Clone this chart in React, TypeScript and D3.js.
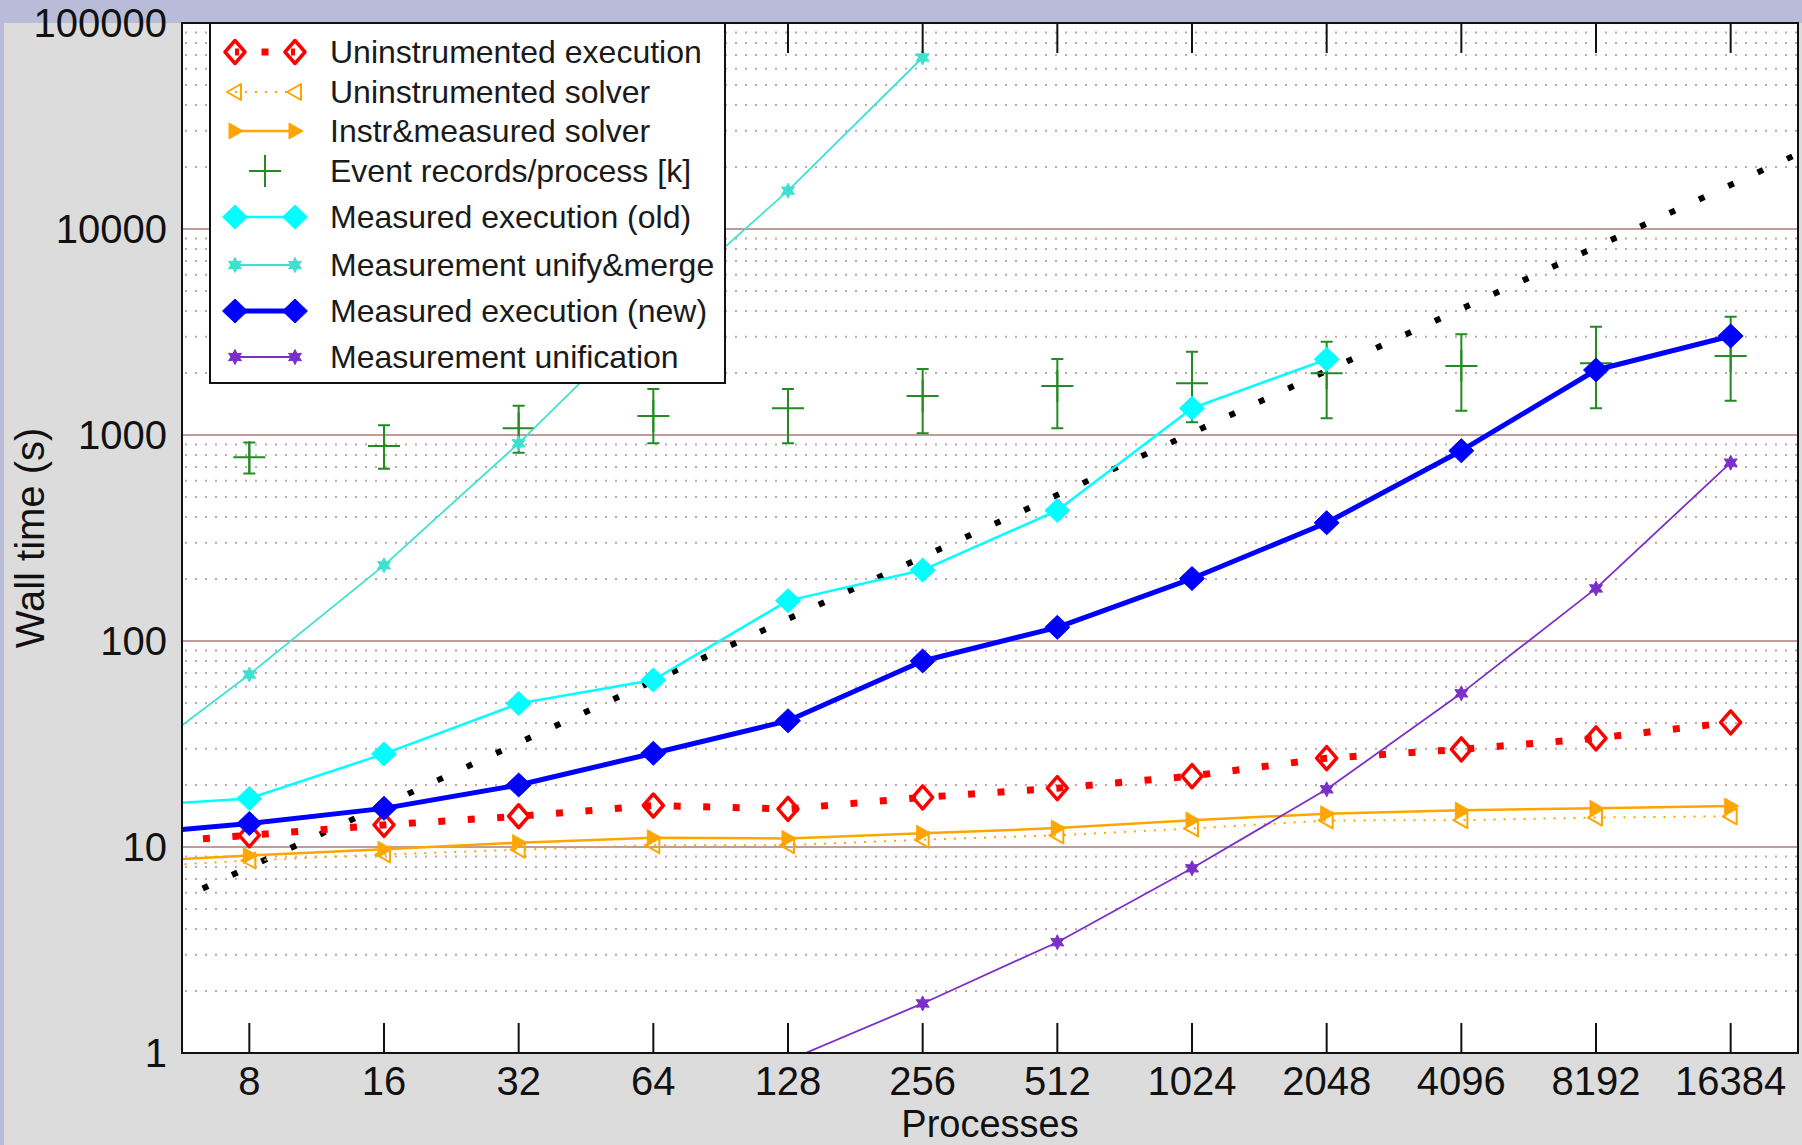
import React, { useRef, useEffect } from "react";
import * as d3 from "d3";

// process counts (x) and wall times in seconds (y)
const processes = [4, 8, 16, 32, 64, 128, 256, 512, 1024, 2048, 4096, 8192, 16384];
const xTicks = [8, 16, 32, 64, 128, 256, 512, 1024, 2048, 4096, 8192, 16384];
const yTicks = [1, 10, 100, 1000, 10000, 100000];

const uninstrExec = [10.2, 11.4, 12.8, 14.1, 15.9, 15.3, 17.4, 19.3, 22.1, 27.0, 29.8, 33.7, 40.3];
const uninstrSolver = [7.9, 8.6, 9.2, 9.7, 10.2, 10.2, 10.85, 11.4, 12.3, 13.45, 13.5, 13.9, 14.1];
const instrSolver = [8.4, 9.1, 9.75, 10.5, 11.1, 11.0, 11.65, 12.35, 13.5, 14.5, 15.1, 15.4, 15.8];
const measuredNew = [11.4, 13.0, 15.4, 20.0, 28.5, 41.0, 80.0, 116.5, 201, 375, 839, 2068, 3025];

const oldProcs = [4, 8, 16, 32, 64, 128, 256, 512, 1024, 2048];
const measuredOld = [15.6, 17.2, 28.3, 49.7, 64.7, 157, 221, 430, 1348, 2330];

const mergeProcs = [4, 8, 16, 32, 64, 128, 256];
const unifyMerge = [22, 68.8, 233, 911, 4000, 15350, 68000];

const unifProcs = [128, 256, 512, 1024, 2048, 4096, 8192, 16384];
const unification = [0.92, 1.74, 3.45, 7.88, 19.05, 55.7, 180, 734];

// event records per process (thousands), with min/max bars
const eventProcs = [8, 16, 32, 64, 128, 256, 512, 1024, 2048, 4096, 8192, 16384];
const eventMean = [779, 885, 1078, 1236, 1348, 1546, 1730, 1782, 1993, 2162, 2230, 2418];
const eventLow = [650, 685, 820, 911, 911, 1019, 1078, 1152, 1205, 1312, 1348, 1468];
const eventHigh = [920, 1116, 1387, 1672, 1672, 2091, 2340, 2537, 2838, 3083, 3356, 3752];

// linear-scaling reference (black dots, no key entry)
const idealProcs = [4, 32768];
const idealTime = [4, 32768];

const FONT = "'Liberation Sans', Arial, Helvetica, sans-serif";

type Marker = "openDiamond" | "openTriLeft" | "triRight" | "diamond" | "star" | "plus" | null;

function markerPath(type: Marker, cx: number, cy: number) {
  if (type === "openDiamond") return `M${cx},${cy - 11.5}L${cx + 10},${cy}L${cx},${cy + 11.5}L${cx - 10},${cy}Z`;
  if (type === "diamond") return `M${cx},${cy - 12}L${cx + 12.5},${cy}L${cx},${cy + 12}L${cx - 12.5},${cy}Z`;
  if (type === "triRight") return `M${cx - 6},${cy - 8}L${cx + 8},${cy}L${cx - 6},${cy + 8}Z`;
  if (type === "openTriLeft") return `M${cx + 6},${cy - 8}L${cx - 8},${cy}L${cx + 6},${cy + 8}Z`;
  if (type === "star") {
    const pts: string[] = [];
    for (let i = 0; i < 12; i++) {
      const r = i % 2 === 0 ? 7.5 : 4;
      const a = (Math.PI / 6) * i - Math.PI / 2;
      pts.push(`${cx + r * Math.cos(a)},${cy + r * Math.sin(a)}`);
    }
    return "M" + pts.join("L") + "Z";
  }
  return "";
}

function drawMarker(g: any, type: Marker, cx: number, cy: number, color: string) {
  if (!type) return;
  if (type === "plus") {
    g.append("path").attr("d", `M${cx - 16},${cy}H${cx + 16}M${cx},${cy - 16}V${cy + 16}`)
      .attr("stroke", color).attr("stroke-width", 2).attr("fill", "none");
    return;
  }
  const open = type === "openDiamond" || type === "openTriLeft";
  g.append("path").attr("d", markerPath(type, cx, cy))
    .attr("fill", open ? "#fff" : color)
    .attr("fill-opacity", open ? 0 : 1)
    .attr("stroke", color)
    .attr("stroke-width", type === "openDiamond" ? 3.5 : type === "openTriLeft" ? 2 : 1)
    .attr("stroke-linejoin", "round");
}

export default function App() {
  const svgRef = useRef<SVGSVGElement>(null);

  useEffect(() => {
    const svgEl = svgRef.current;
    if (!svgEl) return;
    const W = 1802, H = 1145;
    const left = 182, right = 1798, top = 23, bottom = 1053;

    d3.select(svgEl).selectAll("*").remove();
    const svg = d3.select(svgEl).attr("width", W).attr("height", H);

    // page background
    svg.append("rect").attr("width", W).attr("height", H).attr("fill", "#b8bcd8");
    svg.append("rect").attr("x", 4).attr("y", top).attr("width", W - 4).attr("height", H - top).attr("fill", "#dcdcdc");
    svg.append("rect").attr("x", left).attr("y", top).attr("width", right - left).attr("height", bottom - top).attr("fill", "#fff");

    svg.append("defs").append("clipPath").attr("id", "plotClip")
      .append("rect").attr("x", left).attr("y", top).attr("width", right - left).attr("height", bottom - top);

    const x = d3.scaleLog().base(2).domain([2 ** 2.5, 2 ** 14.5]).range([left, right]);
    const y = d3.scaleLog().domain([1, 100000]).range([bottom, top]);

    // grid
    const grid = svg.append("g");
    for (let d = 1; d < 100000; d *= 10) {
      for (let k = 2; k <= 9; k++) {
        grid.append("line").attr("x1", left).attr("x2", right)
          .attr("y1", y(d * k)).attr("y2", y(d * k))
          .attr("stroke", "#c4a4a4").attr("stroke-width", 2)
          .attr("stroke-dasharray", "2 8").attr("stroke-dashoffset", 7);
      }
    }
    yTicks.slice(1, -1).forEach((v) => {
      grid.append("line").attr("x1", left).attr("x2", right).attr("y1", y(v)).attr("y2", y(v))
        .attr("stroke", "#bf9c9c").attr("stroke-width", 2);
    });

    const plot = svg.append("g").attr("clip-path", "url(#plotClip)");

    // reference line y = x
    const line = d3.line<[number, number]>().x((d) => x(d[0])).y((d) => y(d[1]));
    plot.append("path")
      .datum(idealProcs.map((p, i) => [p, idealTime[i]] as [number, number]))
      .attr("d", line).attr("fill", "none").attr("stroke", "#000")
      .attr("stroke-width", 6).attr("stroke-dasharray", "6 26.3");

    const series = [
      { name: "Uninstrumented execution", px: processes, py: uninstrExec, color: "#ff0000", width: 7, dash: "7 22.5", marker: "openDiamond" as Marker },
      { name: "Uninstrumented solver", px: processes, py: uninstrSolver, color: "#ffa500", width: 2, dash: "2 8", marker: "openTriLeft" as Marker },
      { name: "Instr&measured solver", px: processes, py: instrSolver, color: "#ffa500", width: 2.5, dash: null, marker: "triRight" as Marker },
      { name: "Event records/process [k]", px: [], py: [], color: "#228b22", width: 2, dash: null, marker: "plus" as Marker },
      { name: "Measured execution (old)", px: oldProcs, py: measuredOld, color: "#00ffff", width: 2.5, dash: null, marker: "diamond" as Marker },
      { name: "Measurement unify&merge", px: mergeProcs, py: unifyMerge, color: "#40e0d0", width: 1.8, dash: null, marker: "star" as Marker },
      { name: "Measured execution (new)", px: processes, py: measuredNew, color: "#0000ff", width: 5, dash: null, marker: "diamond" as Marker },
      { name: "Measurement unification", px: unifProcs, py: unification, color: "#7a30c8", width: 1.8, dash: null, marker: "star" as Marker },
    ];

    series.forEach((s) => {
      if (s.marker === "plus") {
        // error bars
        eventProcs.forEach((p, i) => {
          const cx = x(p);
          const g = plot.append("g");
          g.append("path")
            .attr("d", `M${cx},${y(eventLow[i])}V${y(eventHigh[i])}M${cx - 6},${y(eventLow[i])}H${cx + 6}M${cx - 6},${y(eventHigh[i])}H${cx + 6}`)
            .attr("stroke", s.color).attr("stroke-width", 2).attr("fill", "none");
          drawMarker(g, "plus", cx, y(eventMean[i]), s.color);
        });
        return;
      }
      const pts = s.px.map((p, i) => [p, s.py[i]] as [number, number]);
      const path = plot.append("path").datum(pts).attr("d", line)
        .attr("fill", "none").attr("stroke", s.color).attr("stroke-width", s.width)
        .attr("stroke-linejoin", "round");
      if (s.dash) path.attr("stroke-dasharray", s.dash);
      pts.forEach((d) => drawMarker(plot, s.marker, x(d[0]), y(d[1]), s.color));
    });

    // frame
    svg.append("rect").attr("x", left).attr("y", top).attr("width", right - left).attr("height", bottom - top)
      .attr("fill", "none").attr("stroke", "#111").attr("stroke-width", 2);

    // x ticks (bottom and mirrored top)
    const axis = svg.append("g");
    xTicks.forEach((t) => {
      axis.append("line").attr("x1", x(t)).attr("x2", x(t)).attr("y1", bottom).attr("y2", bottom - 30)
        .attr("stroke", "#111").attr("stroke-width", 2);
      axis.append("line").attr("x1", x(t)).attr("x2", x(t)).attr("y1", top).attr("y2", top + 30)
        .attr("stroke", "#111").attr("stroke-width", 2);
      axis.append("text").attr("x", x(t)).attr("y", 1095).attr("text-anchor", "middle")
        .attr("font-family", FONT).attr("font-size", 40).attr("fill", "#111").text(String(t));
    });
    yTicks.forEach((t) => {
      axis.append("text").attr("x", 167).attr("y", y(t)).attr("dy", "0.36em").attr("text-anchor", "end")
        .attr("font-family", FONT).attr("font-size", 40).attr("fill", "#111").text(String(t));
    });

    svg.append("text").attr("x", (left + right) / 2).attr("y", 1136.5).attr("text-anchor", "middle")
      .attr("font-family", FONT).attr("font-size", 38).attr("fill", "#111").text("Processes");
    svg.append("text").attr("transform", `translate(44,${(top + bottom) / 2}) rotate(-90)`)
      .attr("text-anchor", "middle").attr("font-family", FONT).attr("font-size", 40).attr("fill", "#111")
      .text("Wall time (s)");

    // key
    const key = svg.append("g");
    key.append("rect").attr("x", 210).attr("y", top).attr("width", 515).attr("height", 360)
      .attr("fill", "#fff").attr("stroke", "#111").attr("stroke-width", 2);
    const rowY = [52, 92, 131, 171, 217, 265, 311, 357];
    const s0 = 235, s1 = 295;
    series.forEach((s, i) => {
      const ry = rowY[i];
      if (s.marker === "plus") {
        drawMarker(key, "plus", (s0 + s1) / 2, ry, s.color);
      } else {
        const l = key.append("line").attr("x1", s0).attr("x2", s1).attr("y1", ry).attr("y2", ry)
          .attr("stroke", s.color).attr("stroke-width", s.width);
        if (s.dash) l.attr("stroke-dasharray", s.dash).attr("stroke-dashoffset", s.width > 5 ? 3 : 0);
        drawMarker(key, s.marker, s0, ry, s.color);
        drawMarker(key, s.marker, s1, ry, s.color);
      }
      key.append("text").attr("x", 330).attr("y", ry + 11)
        .attr("font-family", FONT).attr("font-size", 32).attr("fill", "#1a1a1a").text(s.name);
    });
  }, []);

  return (
    <svg
      ref={svgRef}
      width={1802}
      height={1145}
      style={{ position: "absolute", left: 0, top: 0, display: "block" }}
    />
  );
}
